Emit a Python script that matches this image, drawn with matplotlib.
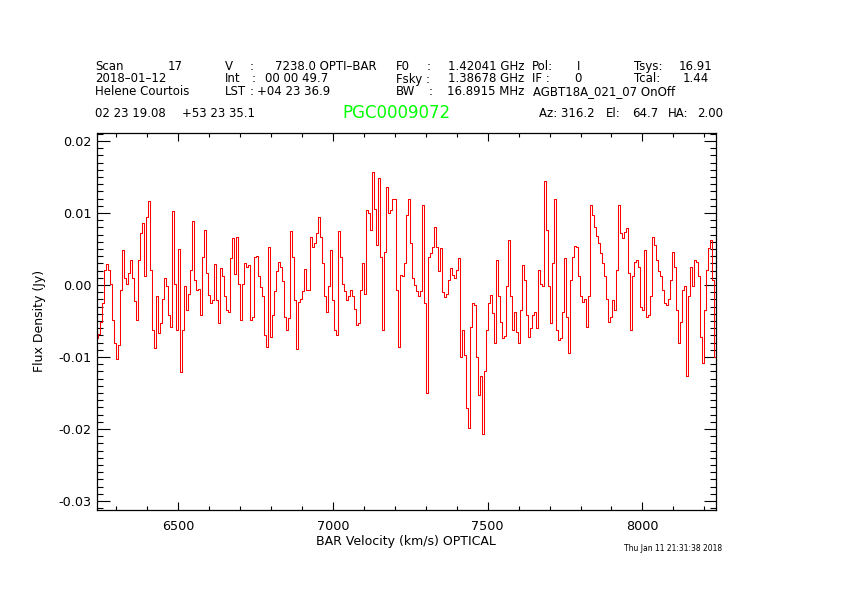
import numpy as np
import matplotlib
matplotlib.use("Agg")
import matplotlib.pyplot as plt
from matplotlib.ticker import MultipleLocator, FormatStrFormatter

plt.rcParams['font.family'] = ['DejaVu Sans']

# Spectrum: flux density (mJy) per channel
flux_mjy = np.array([
    -7.4, -6.8, -5.1, -2.5, 2.1, 2.9, 2.1, 0.2, -4.9, -8.1,
    -10.3, -8.3, -0.7, 4.9, 0.9, 0.2, 1.6, 3.5, 1.0, -2.2,
    -4.8, 3.5, 7.2, 8.6, 1.2, 9.5, 11.7, 2.1, -6.3, -8.8,
    -1.6, -6.7, -5.3, -1.9, 0.9, -0.2, -4.2, -5.8, 10.3, 0.2,
    -6.3, 5.0, -12.1, -6.3, -0.2, -3.5, -1.2, 2.1, 8.9, 0.7,
    -0.7, -0.6, -4.2, 3.9, 7.7, 1.6, -1.4, -2.5, -2.1, 2.9,
    -2.1, -5.3, 2.3, 1.2, -1.6, -3.5, -3.7, 3.7, 6.5, 1.5,
    6.6, 0.1, -4.9, 0.2, 3.0, 2.5, 2.8, -4.9, -4.4,
    3.9, 4.0, 1.2, -0.3, -1.6, -7.0, -8.6, 5.3, -7.2, -4.2,
    -0.9, 1.9, 3.2, 2.5, 0.5, -4.4, -6.3, -4.6, 7.5, 3.9,
    -2.1, -8.9, -2.4, -1.9, -0.9, 2.2, -0.7, -0.7, 6.7, 5.3,
    5.8, 7.2, 9.4, 6.7, 3.0, -1.6, -3.7, -0.2, 4.9, -2.1,
    -6.3, -6.9, 7.5, 3.9, 0.2, -0.9, -2.1, -1.6, -0.7, -1.6,
    -3.3, -5.6, -5.3, -0.7, 3.0, -1.2, 10.4, 10.0, 7.6, 15.7,
    10.6, 5.6, 14.8, 3.9, -6.3, 4.6, 13.6, 10.0, 10.4, 11.9,
    12.0, -0.7, -8.6, 1.4, 1.3,
    3.0, 9.7, 11.9, 5.8, 0.9, 0.0, -0.9, -1.6, -0.9, 11.1,
    -2.5, -15.0, 3.9, 4.4, 5.3, 8.1, 5.3, 1.9, 5.2, -1.0,
    -1.7, -1.2, 0.7, 2.3, 1.4, 0.9, 2.1, 3.7, -10.0, -6.3,
    -9.7, -17.1, -19.8, -5.8, -2.5, -2.8, -10.0, -15.3, -12.7, -20.7,
    -12.0, -6.3, -2.5, -1.4, -3.9, -8.1, 3.5, -1.6, -5.1, -7.4,
    -7.1, -0.2, 6.3, -1.6, -6.3, -3.7, -6.5, -8.1, -3.5, 2.8,
    0.7, -4.2, -7.2, -6.0, -4.2, -3.7, -6.0, 2.1, 0.2, -0.2,
    14.4, 7.6, -0.2, -5.3, 3.0, 11.9, -6.3,
    -7.7, -7.3, -3.7, 3.7, -4.4, -9.5, 0.7, 3.9, 5.4, 5.3,
    1.2, -1.5, -2.3, -1.9, -5.8, -1.6, 11.1, 9.7, 8.1, 6.8,
    5.8, 4.4, 3.0, 1.2, -1.9, -5.2, -4.4, -2.1, -3.5, 2.1,
    11.1, 7.2, 6.5, 7.4, 7.9, 1.6, -6.3, 1.2, 3.2, 3.4,
    2.5, -3.0, -3.5, 4.9, -4.4, -4.2, -1.6, 6.6, 5.6, 3.5,
    1.9, 1.2, -0.7, -2.5, -2.8, -1.9, 0.7, 4.6, 2.5, -3.5,
    -8.0, -5.1, -0.7, -0.2, -12.7, -1.6, 2.5, -0.2, 3.5, 3.2,
    1.2, -7.2, -10.9, -3.5, 2.1, 5.1, 6.3, 0.7, -10.0,
])
v_first, v_last = 6238.0, 8236.0      # channel velocity range (km/s)
velocity = np.linspace(v_first, v_last, len(flux_mjy))

x_major_ticks = [6500, 7000, 7500, 8000]
xlim = (6237, 8238)
ylim = (-0.03125, 0.0211)

title_source = "PGC0009072"
x_label = "BAR Velocity (km/s) OPTICAL"
y_label = "Flux Density (Jy)"
timestamp = "Thu Jan 11 21:31:38 2018"

W, H = 842, 595
fig = plt.figure(figsize=(W / 100, H / 100), dpi=100)
fig.patch.set_facecolor('white')

L, R, T, B = 97, 716, 133, 510
ax = fig.add_axes([L / W, 1 - B / H, (R - L) / W, (B - T) / H])
ax.plot(velocity, flux_mjy * 1e-3, color='#ff0000', lw=0.75,
        drawstyle='steps-mid')
ax.set_xlim(*xlim)
ax.set_ylim(*ylim)

ax.set_xticks(x_major_ticks)
ax.xaxis.set_minor_locator(MultipleLocator(100))
ax.yaxis.set_major_locator(MultipleLocator(0.01))
ax.yaxis.set_minor_locator(MultipleLocator(0.001))
ax.yaxis.set_major_formatter(FormatStrFormatter('%.2f'))

for s in ax.spines.values():
    s.set_linewidth(0.9)
    s.set_color('black')

ax.tick_params(axis='both', which='both', direction='in', top=True, right=True,
               width=0.8, colors='black', labelsize=9.2)
ax.tick_params(axis='x', which='major', length=5.5, pad=7)
ax.tick_params(axis='x', which='minor', length=2.8)
ax.tick_params(axis='y', which='major', length=9, pad=4)
ax.tick_params(axis='y', which='minor', length=4.5)


def ft(x, y, s, ha='left', size=8.5, color='black', **kw):
    fig.text(x / W, 1 - y / H, s, ha=ha, va='baseline', size=size, color=color, **kw)


# Header rows
r1, r2, r3, r4 = 70, 82.5, 95, 117
ft(95, r1, "Scan"); ft(183, r1, "17", ha='right'); ft(225, r1, "V"); ft(250, r1, ":")
ft(275, r1, "7238.0 OPTI\u2013BAR"); ft(396, r1, "F0"); ft(427, r1, ":")
ft(448, r1, "1.42041 GHz"); ft(532, r1, "Pol:"); ft(577, r1, "I")
ft(634, r1, "Tsys:"); ft(712, r1, "16.91", ha='right')

ft(95, r2, "2018\u201301\u201312"); ft(225, r2, "Int"); ft(252, r2, ":")
ft(265, r2, "00 00 49.7"); ft(396, r2, "Fsky :"); ft(448, r2, "1.38678 GHz")
ft(532, r2, "IF :"); ft(574, r2, "0"); ft(634, r2, "Tcal:"); ft(709, r2, "1.44", ha='right')

ft(95, r3, "Helene Courtois"); ft(225, r3, "LST"); ft(250, r3, ":")
ft(257, r3, "+04 23 36.9"); ft(396, r3, "BW"); ft(429, r3, ":")
ft(447, r3, "16.8915 MHz"); ft(533, r3, "AGBT18A_021_07 OnOff")

ft(95, r4, "02 23 19.08"); ft(182, r4, "+53 23 35.1")
ft(342, 118, title_source, size=12, color='#00ff00')
ft(539, r4, "Az: 316.2"); ft(606, r4, "El:"); ft(632, r4, "64.7")
ft(668, r4, "HA:"); ft(723, r4, "2.00", ha='right')

# Axis labels
ft(406, 545, x_label, ha='center', size=9)
fig.text(40 / W, 1 - 321 / H, y_label, rotation=90, ha='center', va='center', size=9)
ft(722, 551, timestamp, ha='right', size=5.5)

fig.savefig("out.png", dpi=100, facecolor='white')
